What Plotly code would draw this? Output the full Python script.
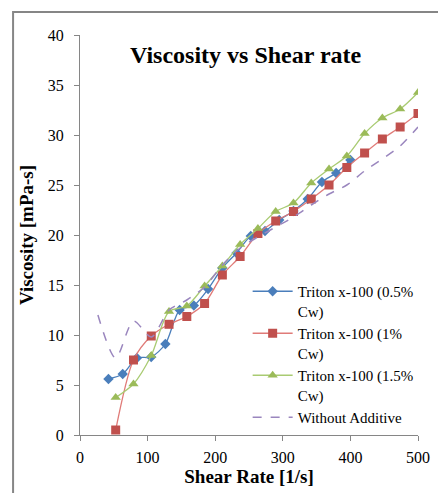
import plotly.graph_objects as go

# Shear rate values [1/s]
shear_05 = [42.1, 63.2, 84.2, 105.3, 126.3, 147.4, 168.4, 189.5, 210.5, 231.6,
            252.6, 273.7, 294.7, 315.8, 336.8, 357.9, 378.9, 400.0]
visc_05 = [5.6, 6.1, 7.7, 7.8, 9.1, 12.5, 12.95, 14.6, 16.7, 18.2,
           19.9, 20.4, 21.5, 22.4, 23.6, 25.3, 26.2, 27.5]

shear_10 = [52.8, 79.1, 105.4, 131.7, 158.0, 184.3, 210.6, 236.9, 263.2, 289.5,
            315.8, 342.1, 368.4, 394.7, 421.0, 447.3, 473.6, 500.0]
visc_10 = [0.5, 7.5, 9.9, 11.07, 11.85, 13.15, 16.0, 17.85, 20.15, 21.4,
           22.35, 23.6, 25.0, 26.75, 28.2, 29.6, 30.8, 32.15]

shear_15 = shear_10
visc_15 = [3.75, 5.1, 7.95, 12.35, 12.9, 14.9, 16.9, 19.05, 20.65, 22.35,
           23.2, 25.2, 26.6, 27.9, 30.15, 31.7, 32.6, 34.25]

shear_none = [26.5, 52.8, 79.1, 105.4, 131.7, 158.0, 184.3, 210.6, 236.9, 263.2,
              289.5, 315.8, 342.1, 368.4, 394.7, 421.0, 447.3, 473.6, 500.0]
visc_none = [12.0, 7.7, 11.4, 9.8, 12.5, 13.5, 14.8, 17.0, 18.7, 19.8,
             20.8, 21.8, 23.0, 24.1, 25.0, 26.4, 27.6, 28.9, 30.8]

names = ["Triton x-100 (0.5%<br>Cw)", "Triton x-100 (1%<br>Cw)",
         "Triton x-100 (1.5%<br>Cw)", "Without Additive"]

FONT = "Liberation Serif, Times New Roman, serif"

fig = go.Figure()
fig.add_trace(go.Scatter(x=shear_05, y=visc_05, name=names[0], mode="lines+markers",
                         line=dict(color="#4A7EBB", width=1.3, shape="spline", smoothing=0.8),
                         marker=dict(symbol="diamond", size=8, color="#4A7EBB")))
fig.add_trace(go.Scatter(x=shear_10, y=visc_10, name=names[1], mode="lines+markers",
                         line=dict(color="#E07B78", width=1.3, shape="spline", smoothing=0.8),
                         marker=dict(symbol="square", size=9, color="#C0504D")))
fig.add_trace(go.Scatter(x=shear_15, y=visc_15, name=names[2], mode="lines+markers",
                         line=dict(color="#A9CB72", width=1.3, shape="spline", smoothing=0.8),
                         marker=dict(symbol="triangle-up", size=9, color="#9BBB59")))
fig.add_trace(go.Scatter(x=shear_none, y=visc_none, name=names[3], mode="lines",
                         line=dict(color="#9A86BE", width=1.5, dash="dash", shape="spline", smoothing=0.8)))

# page body has an 8px margin, so the figure is sized/offset to compensate
fig.update_layout(
    width=438, height=485,
    margin=dict(l=72, r=28, t=27, b=58),
    paper_bgcolor="white", plot_bgcolor="white",
    font=dict(family=FONT, size=16, color="black"),
    title=dict(text="<b>Viscosity vs Shear rate</b>", font=dict(family=FONT, size=24, color="black"),
               xref="paper", x=0.49, xanchor="center", yref="paper", y=0.95, yanchor="middle"),
    legend=dict(x=0.496, y=0.40, xanchor="left", yanchor="top", bgcolor="rgba(0,0,0,0)",
                font=dict(family=FONT, size=15, color="black"), valign="top",
                tracegroupgap=0, itemwidth=40),
    showlegend=True,
)
fig.update_xaxes(range=[0, 500], dtick=100, showgrid=False, zeroline=False,
                 showline=True, linecolor="#868686", linewidth=1,
                 ticks="outside", ticklen=5, tickcolor="#868686",
                 tickfont=dict(family=FONT, size=16), ticklabelstandoff=3,
                 title=dict(text="<b>Shear Rate [1/s]</b>", font=dict(family=FONT, size=19), standoff=0))
fig.update_yaxes(range=[0, 40], dtick=5, showgrid=False, zeroline=False,
                 showline=True, linecolor="#868686", linewidth=1,
                 ticks="outside", ticklen=5, tickcolor="#868686",
                 tickfont=dict(family=FONT, size=16), ticklabelstandoff=7,
                 title=dict(text="<b>Viscosity [mPa-s]</b>", font=dict(family=FONT, size=19), standoff=9))

# outer chart-area border
fig.add_shape(type="rect", xref="paper", yref="paper", x0=-0.198, x1=1.2, y0=-0.3, y1=1.0575,
              line=dict(color="#868686", width=2), fillcolor="rgba(0,0,0,0)", layer="below")

fig.write_html("out.html")
